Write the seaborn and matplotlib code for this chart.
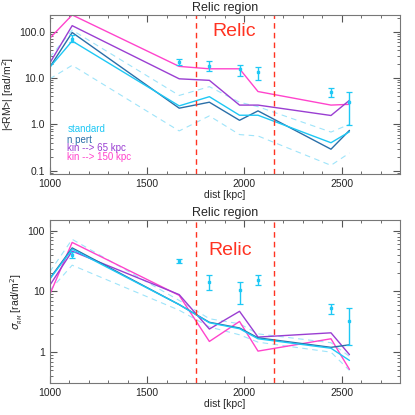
import numpy as np
import pandas as pd
import matplotlib
matplotlib.use("Agg")
import matplotlib.pyplot as plt
import matplotlib.ticker as mticker
import seaborn as sns

# distances of the sampled beams [kpc]
dist = [1000, 1115, 1665, 1820, 1975, 2070, 2445, 2540]

# |<RM>| models
rm_standard = [17, 63, 2.5, 3.95, 1.57, 1.57, 0.40, 0.69]
rm_standard_hi = [28, 108, 4.2, 6.5, 3.0, 2.4, 0.68, 1.0]
rm_standard_lo = [9.6, 18.8, 0.72, 1.52, 0.60, 0.56, 0.13, 0.24]
rm_npert = [17.2, 96, 2.23, 3.0, 1.22, 1.95, 0.29, 0.74]
rm_kin65 = [21, 135, 9.6, 8.9, 2.6, 2.6, 1.55, 3.3]
rm_kin150 = [72, 230, 17.8, 15.8, 15.8, 5.1, 2.6, 2.7]

# sigma_RM models
sig_standard = [15.9, 49.5, 6.06, 3.05, 2.43, 1.66, 1.16, 0.73]
sig_standard_hi = [21, 72, 7.1, 3.55, 2.93, 2.0, 1.43, 0.85]
sig_standard_lo = [10.4, 27, 4.9, 2.6, 1.93, 1.46, 1.0, 0.50]
sig_npert = [16.3, 52, 6.06, 3.1, 2.5, 1.72, 1.2, 1.32]
sig_kin65 = [12.6, 46, 8.85, 2.4, 4.7, 1.77, 2.08, 0.91]
sig_kin150 = [8.9, 64, 8.6, 1.5, 3.2, 1.04, 1.66, 0.52]

# observations
obs_dist = [1115, 1665, 1820, 1975, 2070, 2445, 2540]
obs_rm = [71, 22, 18.4, 15.3, 13.4, 5.1, 3.0]
obs_rm_lo = [60, 19, 14, 11.3, 9.1, 3.8, 0.97]
obs_rm_hi = [85, 26, 23.4, 19, 17.2, 6.0, 5.0]
obs_sig = [40, 31.5, 14.4, 10.4, 15.3, 5.4, 3.3]
obs_sig_lo = [35, 29, 10.4, 6.1, 12.9, 4.3, 1.3]
obs_sig_hi = [45, 34, 18.5, 14.4, 18.5, 6.3, 5.4]

relic_edges = [1750, 2150]

c_std = "#1ec8f5"
c_std_lt = "#9ee4fa"
c_npert = "#2a6fa8"
c_k65 = "#9a3ed2"
c_k150 = "#ff44cc"
c_red = "#ff3322"

sns.set_style("ticks")
plt.rcParams["font.family"] = ["Liberation Sans", "DejaVu Sans"]

fig = plt.figure(figsize=(4.15, 4.15), dpi=100)
ax1 = fig.add_axes([0.120, 0.581, 0.844, 0.383])
ax2 = fig.add_axes([0.120, 0.077, 0.844, 0.393])


def draw(ax, std, hi, lo, npert, k65, k150, obs, olo, ohi, ylim, fmt):
    df = pd.DataFrame({"dist": dist, "std": std, "hi": hi, "lo": lo,
                       "npert": npert, "k65": k65, "k150": k150})
    for col, color, ls, lw in [("hi", c_std_lt, (0, (5, 4)), 0.8),
                               ("lo", c_std_lt, (0, (5, 4)), 0.8),
                               ("k150", c_k150, "-", 1.0),
                               ("k65", c_k65, "-", 1.0),
                               ("npert", c_npert, "-", 1.0),
                               ("std", c_std, "-", 1.0)]:
        sns.lineplot(data=df, x="dist", y=col, ax=ax, color=color,
                     linestyle=ls, linewidth=lw)
    obs = np.array(obs)
    yerr = [obs - np.array(olo), np.array(ohi) - obs]
    ax.errorbar(obs_dist, obs, yerr=yerr, fmt="s", ms=1.8, color=c_std,
                ecolor=c_std, elinewidth=1.0, capsize=2.5, capthick=0.9)
    for xe in relic_edges:
        ax.axvline(xe, color=c_red, linestyle=(0, (4, 3)), linewidth=1.0)
    ax.set_yscale("log")
    ax.set_xlim(1000, 2800)
    ax.set_ylim(*ylim)
    ax.set_xticks([1000, 1500, 2000, 2500])
    ax.xaxis.set_minor_locator(mticker.MultipleLocator(100))
    ax.yaxis.set_major_formatter(mticker.FuncFormatter(fmt))
    ax.yaxis.set_minor_formatter(mticker.NullFormatter())
    ax.tick_params(which="both", direction="in", top=True, right=True,
                   labelsize=7.5, color="#555555")
    ax.tick_params(which="major", length=5)
    ax.tick_params(which="minor", length=2.5)
    for sp in ax.spines.values():
        sp.set_color("#777777")
        sp.set_linewidth(0.8)
    ax.set_xlabel("dist [kpc]", fontsize=7.5, labelpad=1)
    ax.set_title("Relic region", fontsize=9, pad=3)


draw(ax1, rm_standard, rm_standard_hi, rm_standard_lo, rm_npert, rm_kin65,
     rm_kin150, obs_rm, obs_rm_lo, obs_rm_hi, (0.085, 230),
     lambda v, p: f"{v:.1f}")
draw(ax2, sig_standard, sig_standard_hi, sig_standard_lo, sig_npert,
     sig_kin65, sig_kin150, obs_sig, obs_sig_lo, obs_sig_hi, (0.31, 150),
     lambda v, p: f"{v:g}")

ax1.set_ylabel("|<RM>| [rad/m$^2$]", fontsize=7.5, labelpad=2)
ax2.set_ylabel(r"$\sigma_{_{RM}}$ [rad/m$^2$]", fontsize=7.5, labelpad=2)

ax1.text(1945, 100, "Relic", color=c_red, fontsize=14, ha="center", va="center")
ax2.text(1925, 47, "Relic", color=c_red, fontsize=14, ha="center", va="center")

legend_items = [("standard", c_std, 0.285), ("n pert", c_npert, 0.215),
                ("kin --> 65 kpc", c_k65, 0.16), ("kin --> 150 kpc", c_k150, 0.105)]
for label, color, yy in legend_items:
    ax1.text(0.05, yy, label, color=color, fontsize=7,
             transform=ax1.transAxes, va="center")

fig.savefig("out.png", dpi=100)
